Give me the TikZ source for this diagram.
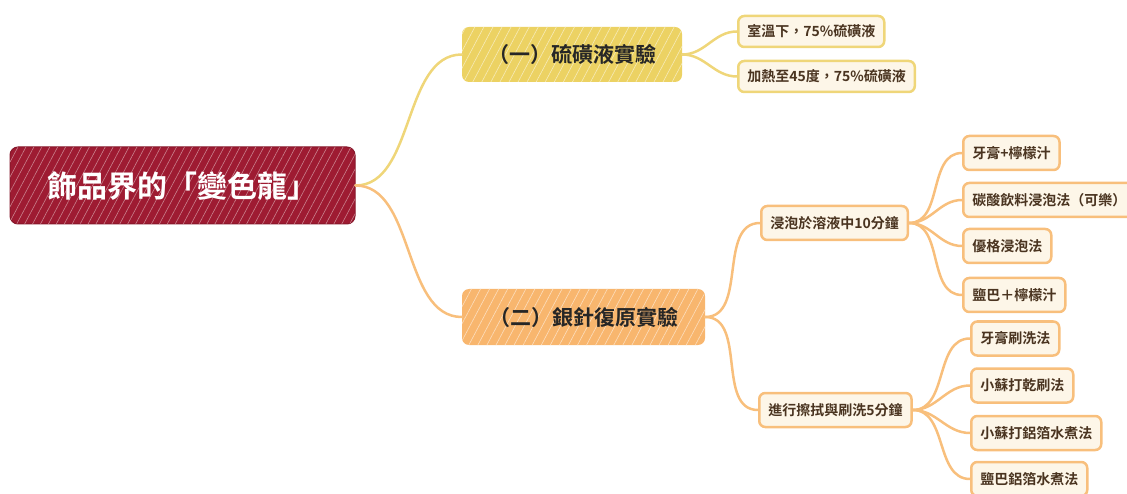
\documentclass[tikz,border=0pt]{standalone}
\usepackage{fontspec}
\setmainfont{Noto Sans CJK TC}[BoldFont={Noto Sans CJK TC Bold}]
\usetikzlibrary{patterns.meta}
\definecolor{rootred}{HTML}{9E1B32}
\definecolor{yel}{HTML}{ECD263}
\definecolor{org}{HTML}{F8B66E}
\definecolor{yline}{HTML}{EFD679}
\definecolor{oline}{HTML}{F8BF7C}
\definecolor{cream}{HTML}{FDF6E8}
\definecolor{brown}{HTML}{4A3420}
\tikzset{
  hatch/.style={postaction={pattern={Lines[angle=62,distance=7pt,line width=0.5pt]}, pattern color=white!#1!rootred}},
  rootbox/.style={draw=rootred!85!black, line width=1pt, fill=rootred, rounded corners=8pt, text=white, font=\bfseries\fontsize{30}{32}\selectfont, minimum width=345pt, minimum height=77pt, inner sep=0pt,
     postaction={pattern={Lines[angle=62,distance=7pt,line width=0.6pt]}, pattern color=rootred!55!white}},
  yelbox/.style={fill=yel, rounded corners=7pt, text=black!85, font=\bfseries\fontsize{21}{23}\selectfont, minimum width=220pt, minimum height=55pt, inner sep=0pt,
     postaction={pattern={Lines[angle=62,distance=8pt,line width=0.6pt]}, pattern color=yel!45!white}},
  orgbox/.style={fill=org, rounded corners=7pt, text=black!85, font=\bfseries\fontsize{21}{23}\selectfont, minimum width=243pt, minimum height=56pt, inner sep=0pt,
     postaction={pattern={Lines[angle=62,distance=8pt,line width=0.6pt]}, pattern color=org!45!white}},
  yleaf/.style={draw=yline, line width=2.5pt, fill=cream, rounded corners=6pt, text=brown, font=\bfseries\fontsize{14}{16}\selectfont, minimum height=31pt, inner xsep=9pt, anchor=west},
  oleaf/.style={draw=oline, line width=2.5pt, fill=cream, rounded corners=6pt, text=brown, font=\bfseries\fontsize{14}{16}\selectfont, minimum height=34pt, inner xsep=9pt, anchor=west},
  yconn/.style={draw=yline, line width=2.5pt, line cap=round},
  oconn/.style={draw=oline, line width=2.5pt, line cap=round},
}
\begin{document}
\begin{tikzpicture}[x=1pt,y=-1pt]
\useasboundingbox (0,0) rectangle (1127,494);
% nodes
\node[rootbox] (root) at (182.5,185.5) {飾品界的「變色龍」};
\node[yelbox] (one) at (572,54.5) {（一）硫磺液實驗};
\node[orgbox] (two) at (583.5,317) {（二）銀針復原實驗};
\node[yleaf] (y1) at (737,31.5) {室溫下，75\%硫磺液};
\node[yleaf] (y2) at (737,76.5) {加熱至45度，75\%硫磺液};
\node[oleaf] (soak) at (760,223) {浸泡於溶液中10分鐘};
\node[oleaf] (brush) at (758,410) {進行擦拭與刷洗5分鐘};
\node[oleaf] (s1) at (962,153) {牙膏+檸檬汁};
\node[oleaf] (s2) at (962,200) {碳酸飲料浸泡法（可樂）};
\node[oleaf] (s3) at (962,246) {優格浸泡法};
\node[oleaf] (s4) at (962,295) {鹽巴＋檸檬汁};
\node[oleaf] (b1) at (970,338.5) {牙膏刷洗法};
\node[oleaf] (b2) at (970,385.5) {小蘇打乾刷法};
\node[oleaf] (b3) at (970,433) {小蘇打鋁箔水煮法};
\node[oleaf] (b4) at (970,479) {鹽巴鋁箔水煮法};
% connectors
\path[yconn] (root.east) to[out=0,in=180,looseness=0.9] (one.west);
\path[oconn] (root.east) to[out=0,in=180,looseness=0.9] (two.west);
\path[yconn] (one.east) to[out=0,in=180] (y1.west);
\path[yconn] (one.east) to[out=0,in=180] (y2.west);
\path[oconn] (two.east) to[out=0,in=180] (soak.west);
\path[oconn] (two.east) to[out=0,in=180] (brush.west);
\foreach \n in {s1,s2,s3,s4}{\path[oconn] (soak.east) to[out=0,in=180] (\n.west);}
\foreach \n in {b1,b2,b3,b4}{\path[oconn] (brush.east) to[out=0,in=180] (\n.west);}
\end{tikzpicture}
\end{document}
